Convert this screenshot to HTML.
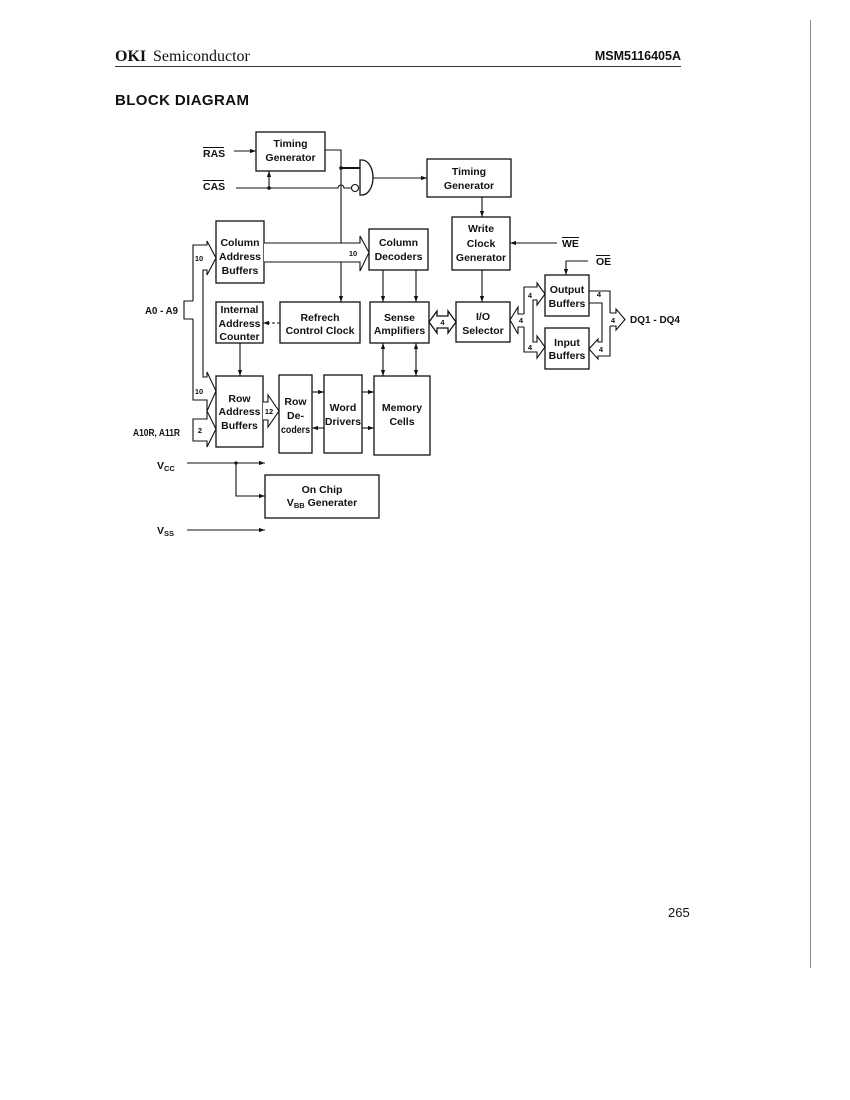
<!DOCTYPE html>
<html><head><meta charset="utf-8"><style>
html,body{margin:0;padding:0;background:#fff;}
svg{display:block;}
.t{font-family:"Liberation Sans",Arial,sans-serif;font-weight:bold;font-size:10.5px;fill:#111;text-anchor:middle;}
.s{font-family:"Liberation Sans",Arial,sans-serif;font-weight:bold;font-size:7.5px;fill:#111;text-anchor:middle;}
.l{font-family:"Liberation Sans",Arial,sans-serif;font-weight:bold;font-size:10.5px;fill:#111;}
.b{fill:#fff;stroke:#111;stroke-width:1.3;}
.w{fill:none;stroke:#111;stroke-width:1.1;}
</style></head><body>
<svg width="850" height="1100" viewBox="0 0 850 1100" xmlns="http://www.w3.org/2000/svg">
<defs>
<marker id="a" viewBox="0 0 10 10" refX="10" refY="5" markerWidth="6" markerHeight="6" markerUnits="userSpaceOnUse" orient="auto-start-reverse"><path d="M0 1.5L10 5L0 8.5z" fill="#111"/></marker>
</defs>

<!-- header -->
<text x="115" y="61" font-family="'Liberation Serif',serif" font-size="16" font-weight="bold" fill="#111">OKI</text>
<text x="153" y="61" font-family="'Liberation Serif',serif" font-size="16" fill="#111">Semiconductor</text>
<text x="681" y="60" text-anchor="end" font-family="'Liberation Sans',sans-serif" font-size="12.5" font-weight="bold" fill="#111">MSM5116405A</text>
<line x1="115" y1="66.5" x2="681" y2="66.5" stroke="#333" stroke-width="1"/>
<text x="115" y="105" font-family="'Liberation Sans',sans-serif" font-size="15" font-weight="bold" letter-spacing="0.4" fill="#111">BLOCK DIAGRAM</text>

<!-- right border line -->
<line x1="810.5" y1="20" x2="810.5" y2="968" stroke="#888" stroke-width="1"/>

<!-- page number -->
<text x="668" y="917" font-family="'Liberation Sans',sans-serif" font-size="13" fill="#111">265</text>

<!-- RAS / CAS -->
<text x="203" y="157" class="l" font-size="10">RAS</text>
<line x1="203" y1="147.5" x2="224" y2="147.5" stroke="#111" stroke-width="1"/>
<line x1="234" y1="151" x2="256" y2="151" class="w" marker-end="url(#a)"/>
<text x="203" y="190" class="l" font-size="10">CAS</text>
<line x1="203" y1="180.5" x2="224" y2="180.5" stroke="#111" stroke-width="1"/>
<path d="M236 188 L338 188 A3 3 0 0 1 344 188 L351.5 188" class="w"/>
<circle cx="355" cy="188" r="3.5" class="w"/>
<circle cx="269" cy="188" r="1.8" fill="#111"/>
<line x1="269" y1="188" x2="269" y2="171" class="w" marker-end="url(#a)"/>

<!-- Timing generator 1 -->
<rect x="256" y="132" width="69" height="39" class="b"/>
<text x="290.5" y="147" class="t">Timing</text>
<text x="290.5" y="161" class="t">Generator</text>
<path d="M325 150 L341 150 L341 302" class="w" marker-end="url(#a)"/>
<circle cx="341" cy="168" r="1.8" fill="#111"/>
<line x1="341" y1="168" x2="360" y2="168" stroke="#111" stroke-width="2"/>

<!-- AND gate -->
<path d="M360 160 L362 160 A11 17.5 0 0 1 362 195 L360 195 Z" class="b"/>
<line x1="373" y1="178" x2="427" y2="178" class="w" marker-end="url(#a)"/>

<!-- Timing generator 2 -->
<rect x="427" y="159" width="84" height="38" class="b"/>
<text x="469" y="175" class="t">Timing</text>
<text x="469" y="189" class="t">Generator</text>
<line x1="482" y1="197" x2="482" y2="217" class="w" marker-end="url(#a)"/>

<!-- Write clock generator -->
<rect x="452" y="217" width="58" height="53" class="b"/>
<text x="481" y="232" class="t">Write</text>
<text x="481" y="247" class="t" font-size="11.5">Clock</text>
<text x="481" y="261" class="t">Generator</text>
<line x1="557" y1="243" x2="510" y2="243" class="w" marker-end="url(#a)"/>
<text x="562" y="247" class="l" font-size="10">WE</text>
<line x1="562" y1="237.5" x2="579" y2="237.5" stroke="#111" stroke-width="1"/>
<text x="596" y="265" class="l" font-size="10">OE</text>
<line x1="596" y1="255.5" x2="610" y2="255.5" stroke="#111" stroke-width="1"/>
<path d="M588 261 L566 261 L566 275" class="w" marker-end="url(#a)"/>
<line x1="482" y1="270" x2="482" y2="302" class="w" marker-end="url(#a)"/>

<!-- Column decoders -->
<rect x="369" y="229" width="59" height="41" class="b"/>
<text x="398.5" y="246" class="t">Column</text>
<text x="398.5" y="260" class="t">Decoders</text>

<!-- Column address buffers -->
<rect x="216" y="221" width="48" height="62" class="b"/>
<text x="240" y="246" class="t">Column</text>
<text x="240" y="260" class="t">Address</text>
<text x="240" y="274" class="t">Buffers</text>

<!-- column bus -->
<path d="M264 243 L360 243 L360 236 L369 252.5 L360 271 L360 262 L264 262" fill="#fff" stroke="#111" stroke-width="1.1"/>
<text x="353" y="256" class="s">10</text>

<!-- Internal address counter -->
<rect x="216" y="302" width="47" height="41" class="b"/>
<text x="239.5" y="313" class="t">Internal</text>
<text x="239.5" y="327" class="t">Address</text>
<text x="239.5" y="340" class="t">Counter</text>

<!-- Refresh control clock -->
<rect x="280" y="302" width="80" height="41" class="b"/>
<text x="320" y="321" class="t">Refrech</text>
<text x="320" y="334" class="t">Control Clock</text>
<line x1="280" y1="323" x2="263" y2="323" class="w" stroke-dasharray="3 2" marker-end="url(#a)"/>

<!-- Sense amplifiers -->
<rect x="370" y="302" width="59" height="41" class="b"/>
<text x="399.5" y="321" class="t">Sense</text>
<text x="399.5" y="334" class="t">Amplifiers</text>
<line x1="383" y1="270" x2="383" y2="302" class="w" marker-end="url(#a)"/>
<line x1="416" y1="270" x2="416" y2="302" class="w" marker-end="url(#a)"/>
<line x1="383" y1="343" x2="383" y2="376" class="w" marker-start="url(#a)" marker-end="url(#a)"/>
<line x1="416" y1="343" x2="416" y2="376" class="w" marker-start="url(#a)" marker-end="url(#a)"/>

<!-- SA <-> IO bus -->
<path d="M429 322 L437 311 L437 316 L448 316 L448 311 L456 322 L448 333 L448 328 L437 328 L437 333 Z" class="b" stroke-width="1.1"/>
<text x="442.5" y="325" class="s">4</text>

<!-- I/O selector -->
<rect x="456" y="302" width="54" height="40" class="b"/>
<text x="483" y="320" class="t">I/O</text>
<text x="483" y="334" class="t">Selector</text>

<!-- left IO bus -->
<path d="M510 320 L518 307 L518 314 L524 314 M518 334 L510 320 M518 334 L518 327 L524 327" class="w"/>
<path d="M524 314 L524 287 L537 287 L537 283 L545 294 L537 305 L537 300 L533 300 L533 342 L537 342 L537 336 L545 347 L537 358 L537 352 L524 352 L524 327" class="w"/>
<text x="521" y="323" class="s">4</text>
<text x="530" y="298" class="s">4</text>
<text x="530" y="350" class="s">4</text>

<!-- Output / Input buffers -->
<rect x="545" y="275" width="44" height="41" class="b"/>
<text x="567" y="293" class="t">Output</text>
<text x="567" y="307" class="t">Buffers</text>
<rect x="545" y="328" width="44" height="41" class="b"/>
<text x="567" y="346" class="t">Input</text>
<text x="567" y="359" class="t">Buffers</text>

<!-- right IO bus -->
<path d="M589 291 L610 291 L610 313 M610 326 L610 356 L598 356 L598 359 L589 349 L598 339 L598 342 L602 342 L602 303 L589 303" class="w"/>
<path d="M610 313 L616 313 L616 309 L625 319.5 L616 330 L616 326 L610 326" class="w"/>
<text x="599" y="297" class="s">4</text>
<text x="601" y="352" class="s">4</text>
<text x="613" y="323" class="s">4</text>
<text x="630" y="323" class="l" font-size="10.5" textLength="50" lengthAdjust="spacingAndGlyphs">DQ1 - DQ4</text>

<!-- left address buses -->
<text x="145" y="314" class="l" font-size="10.5" textLength="33" lengthAdjust="spacingAndGlyphs">A0 - A9</text>
<path d="M193 301 L184 301 L184 319 L193 319" class="w"/>
<path d="M193 301 L193 245 L207 245 L207 241 L216 258 L207 275 L207 270 L203 270 L203 377 L207 377 L207 372 L216 391 L207 411 L207 400 L193 400 L193 319" fill="#fff" stroke="#111" stroke-width="1.1"/>
<text x="199" y="261" class="s">10</text>
<text x="199" y="394" class="s">10</text>
<path d="M193 419 L207 419 L207 411 L216 429 L207 447 L207 441 L193 441 Z" fill="#fff" stroke="#111" stroke-width="1.1"/>
<text x="200" y="433" class="s">2</text>
<text x="133" y="436" class="l" font-size="10.5" textLength="47" lengthAdjust="spacingAndGlyphs">A10R, A11R</text>
<line x1="240" y1="343" x2="240" y2="376" class="w" marker-end="url(#a)"/>

<!-- Row address buffers -->
<rect x="216" y="376" width="47" height="71" class="b"/>
<text x="239.5" y="402" class="t">Row</text>
<text x="239.5" y="415" class="t">Address</text>
<text x="239.5" y="429" class="t">Buffers</text>
<path d="M263 402 L268 402 L268 395 L279 411 L268 427 L268 420 L263 420" fill="#fff" stroke="#111" stroke-width="1.1"/>
<text x="269" y="414" class="s">12</text>

<!-- Row decoders -->
<rect x="279" y="375" width="33" height="78" class="b"/>
<text x="295.5" y="405" class="t">Row</text>
<text x="295.5" y="419" class="t">De-</text>
<text x="295.5" y="433" class="t" textLength="29" lengthAdjust="spacingAndGlyphs">coders</text>
<line x1="312" y1="392" x2="324" y2="392" class="w" marker-end="url(#a)"/>
<line x1="324" y1="428" x2="312" y2="428" class="w" marker-end="url(#a)"/>

<!-- Word drivers -->
<rect x="324" y="375" width="38" height="78" class="b"/>
<text x="343" y="411" class="t">Word</text>
<text x="343" y="425" class="t">Drivers</text>
<line x1="362" y1="392" x2="374" y2="392" class="w" marker-end="url(#a)"/>
<line x1="362" y1="428" x2="374" y2="428" class="w" marker-end="url(#a)"/>

<!-- Memory cells -->
<rect x="374" y="376" width="56" height="79" class="b"/>
<text x="402" y="411" class="t">Memory</text>
<text x="402" y="425" class="t">Cells</text>

<!-- Vcc / Vss -->
<text x="157" y="469" class="l" font-size="10.5">V<tspan font-size="7.5" dy="2">CC</tspan></text>
<line x1="187" y1="463" x2="265" y2="463" class="w" marker-end="url(#a)"/>
<circle cx="236" cy="463" r="1.6" fill="#111"/>
<path d="M236 463 L236 496 L265 496" class="w" marker-end="url(#a)"/>
<rect x="265" y="475" width="114" height="43" class="b"/>
<text x="322" y="493" class="t">On Chip</text>
<text x="322" y="506" class="t">V<tspan font-size="7.5" dy="2">BB</tspan><tspan dy="-2"> Generater</tspan></text>
<text x="157" y="534" class="l" font-size="10.5">V<tspan font-size="7.5" dy="2">SS</tspan></text>
<line x1="187" y1="530" x2="265" y2="530" class="w" marker-end="url(#a)"/>
</svg>
</body></html>
